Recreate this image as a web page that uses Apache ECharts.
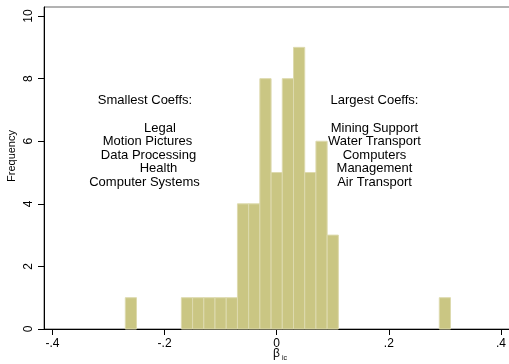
<!DOCTYPE html>
<html>
<head>
<meta charset="utf-8">
<script src="https://cdn.jsdelivr.net/npm/echarts@6/dist/echarts.min.js"></script>
<style>
  html, body { margin: 0; padding: 0; background: #fff; }
  #chart { width: 509px; height: 364px; }
</style>
</head>
<body>
<div id="chart"></div>
<script>
// Histogram of industry coefficients (bin width 0.02)
const binWidth = 0.02;
const binStarts = [-0.27, -0.17, -0.15, -0.13, -0.11, -0.09, -0.07, -0.05, -0.03, -0.01, 0.01, 0.03, 0.05, 0.07, 0.09, 0.29];
const binCounts = [1, 1, 1, 1, 1, 1, 4, 4, 8, 5, 8, 9, 5, 6, 3, 1];

const xTicks = [-0.4, -0.2, 0, 0.2, 0.4];
const xTickLabels = ['-.4', '-.2', '0', '.2', '.4'];
const yTicks = [0, 2, 4, 6, 8, 10];

const smallestTitle = 'Smallest Coeffs:';
const smallestNames = ['Legal', 'Motion Pictures', 'Data Processing', 'Health', 'Computer Systems'];
const largestTitle = 'Largest Coeffs:';
const largestNames = ['Mining Support', 'Water Transport', 'Computers', 'Management', 'Air Transport'];

const FONT = '"Liberation Sans", Arial, sans-serif';
const chart = echarts.init(document.getElementById('chart'));

const bins = binStarts.map((s, i) => [s, s + binWidth, binCounts[i]]);

// annotation text blocks
const leftCenters = [160, 147.5, 148.5, 158.5, 144.5];
const annot = [];
function addText(text, x, y) {
  annot.push({
    type: 'text', x: x, y: y, z: 10,
    style: { text: text, textAlign: 'center', textVerticalAlign: 'middle',
             font: '13px ' + FONT, fill: '#000' }
  });
}
addText(smallestTitle, 145, 100);
smallestNames.forEach((t, i) => addText(t, leftCenters[i], 128 + i * 13.6));
addText(largestTitle, 374.5, 100);
largestNames.forEach((t, i) => addText(t, 374.5, 128 + i * 13.6));

// axis titles
annot.push({
  type: 'text', x: 12, y: 156, rotation: Math.PI / 2,
  style: { text: 'Frequency', textAlign: 'center', textVerticalAlign: 'middle',
           font: '11px ' + FONT, fill: '#000' }
});
annot.push({
  type: 'text', x: 280, y: 354,
  style: {
    text: '{b|β}{s|ic}', textAlign: 'center', textVerticalAlign: 'middle',
    rich: {
      b: { font: '12px ' + FONT, fill: '#000' },
      s: { font: '7px ' + FONT, fill: '#000', padding: [8, 0, 0, 2] }
    }
  }
});

chart.setOption({
  animation: false,
  backgroundColor: '#fff',
  grid: { left: 44, top: 7, width: 485, bottom: 35, show: true,
          outerBoundsMode: 'none', containLabel: false,
          borderColor: '#666', borderWidth: 1, backgroundColor: 'transparent' },
  xAxis: {
    type: 'value', min: -0.415, max: 0.45,
    splitLine: { show: false },
    axisLine: { show: true, onZero: false, lineStyle: { color: '#000', width: 1 } },
    axisTick: { show: true, length: 6, customValues: xTicks, lineStyle: { color: '#000' } },
    axisLabel: {
      customValues: xTicks, margin: 9, color: '#000', fontSize: 12, fontFamily: FONT,
      formatter: v => xTickLabels[xTicks.findIndex(t => Math.abs(t - v) < 1e-9)] ?? ''
    }
  },
  yAxis: {
    type: 'value', min: 0, max: 10.29,
    splitLine: { show: false },
    axisLine: { show: true, onZero: false, lineStyle: { color: '#000', width: 1 } },
    axisTick: { show: true, length: 6, customValues: yTicks, lineStyle: { color: '#000' } },
    axisLabel: {
      customValues: yTicks, rotate: 90, margin: 9, color: '#000', fontSize: 12, fontFamily: FONT
    }
  },
  graphic: annot,
  series: [{
    type: 'custom',
    data: bins,
    encode: { x: [0, 1], y: 2 },
    renderItem: function (params, api) {
      const p0 = api.coord([api.value(0), api.value(2)]);
      const p1 = api.coord([api.value(1), 0]);
      return {
        type: 'rect',
        shape: { x: p0[0], y: p0[1], width: p1[0] - p0[0], height: p1[1] - p0[1] },
        style: { fill: '#CAC683', stroke: '#DDDAAE', lineWidth: 1 }
      };
    }
  }]
});
</script>
</body>
</html>
